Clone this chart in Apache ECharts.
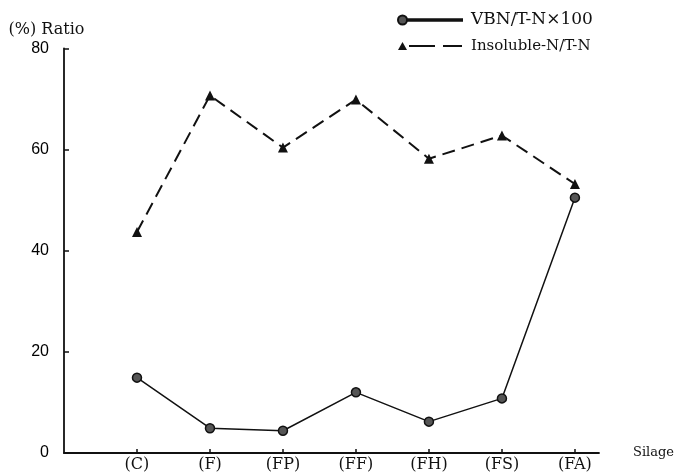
<!DOCTYPE html>
<html>
<head>
<meta charset="utf-8">
<script src="https://cdn.jsdelivr.net/npm/echarts@6/dist/echarts.min.js"></script>
<style>
html,body{margin:0;padding:0;background:#fff;}
#chart{width:677px;height:473px;}
</style>
</head>
<body>
<div id="chart"></div>
<script>
var categories = ['(C)', '(F)', '(FP)', '(FF)', '(FH)', '(FS)', '(FA)'];
var vbnValues = [14.9, 4.9, 4.4, 12.0, 6.2, 10.8, 50.5];
var insolubleValues = [43.7, 70.7, 60.4, 69.9, 58.2, 62.8, 53.2];
var yTicks = [0, 20, 40, 60, 80];

// categories sit at positions 1..7 on the x axis (position 0 is the origin)
var catPositions = categories.map(function (c, i) { return i + 1; });
var vbnData = vbnValues.map(function (v, i) { return [catPositions[i], v]; });
var insolubleData = insolubleValues.map(function (v, i) { return [catPositions[i], v]; });

var chart = echarts.init(document.getElementById('chart'), null, {renderer: 'canvas'});
var option = {
  backgroundColor: '#ffffff',
  animation: false,
  grid: {left: 64, right: 78, top: 48.5, bottom: 20, containLabel: false},
  legend: {
    orient: 'vertical',
    left: 392,
    top: 5,
    itemGap: 6,
    itemWidth: 64,
    itemHeight: 10,
    textStyle: {fontFamily: 'DejaVu Serif', fontSize: 16, color: '#111', lineHeight: 20, padding: [0, 0, 0, 4]},
    data: [
      {name: 'VBN/T-N×100', icon: 'path://M0,5 a4.5,4.5 0 1,0 9,0 a4.5,4.5 0 1,0 -9,0 Z M10,4.3 L64,4.3 L64,5.7 L10,5.7 Z',
        textStyle: {fontSize: 17}},
      {name: 'Insoluble-N/T-N', icon: 'path://M0,9 L4.5,1 L9,9 Z M11,4 L37,4 L37,6 L11,6 Z M45,4 L64,4 L64,6 L45,6 Z',
        textStyle: {fontSize: 15}}
    ]
  },
  xAxis: {
    type: 'value',
    min: 0,
    max: 7.33,
    interval: 1,
    name: 'Silage',
    nameLocation: 'end',
    nameGap: 34,
    nameTextStyle: {fontFamily: 'DejaVu Serif', fontSize: 13, color: '#111', padding: [24, 0, 0, 0], align: 'left'},
    axisLine: {onZero: false, lineStyle: {color: '#111', width: 1.8}},
    axisTick: {show: true, inside: true, length: 4, customValues: catPositions, lineStyle: {color: '#111', width: 1.5}},
    axisLabel: {fontFamily: 'DejaVu Serif', fontSize: 16, color: '#111', margin: 4, customValues: catPositions,
      formatter: function (v) { return categories[v - 1] || ''; }},
    splitLine: {show: false}
  },
  yAxis: {
    type: 'value',
    min: 0,
    max: 80,
    interval: 20,
    name: '(%) Ratio',
    nameLocation: 'end',
    nameGap: 11,
    nameTextStyle: {fontFamily: 'DejaVu Serif', fontSize: 16, color: '#111', align: 'center', padding: [0, 35, 0, 0]},
    axisLine: {show: true, onZero: false, lineStyle: {color: '#111', width: 1.8}},
    axisTick: {show: true, inside: true, length: 5, lineStyle: {color: '#111', width: 1.5}},
    axisLabel: {fontFamily: 'Liberation Sans', fontSize: 16, color: '#000', margin: 15,
      formatter: function (v) { return yTicks.indexOf(v) >= 0 ? String(v) : ''; }},
    splitLine: {show: false}
  },
  series: [
    {
      name: 'VBN/T-N×100',
      type: 'line',
      data: vbnData,
      symbol: 'circle',
      symbolSize: 9,
      itemStyle: {color: '#555', borderColor: '#111', borderWidth: 1.5},
      lineStyle: {color: '#111', width: 1.5, type: 'solid'},
      z: 3
    },
    {
      name: 'Insoluble-N/T-N',
      type: 'line',
      data: insolubleData,
      symbol: 'triangle',
      symbolSize: 10,
      itemStyle: {color: '#111', borderColor: '#111', borderWidth: 0},
      lineStyle: {color: '#111', width: 2, type: [13, 7]},
      z: 2
    }
  ]
};
chart.setOption(option);
</script>
</body>
</html>
